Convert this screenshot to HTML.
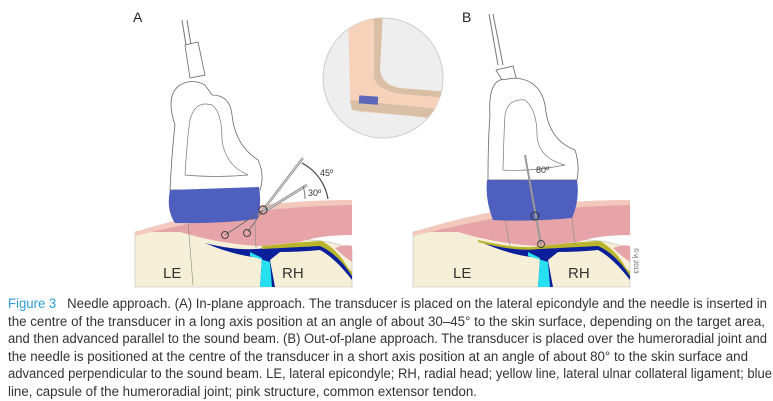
<!DOCTYPE html>
<html><head><meta charset="utf-8"><style>
body{margin:0;background:#fff;width:773px;height:400px;overflow:hidden;font-family:"Liberation Sans",sans-serif}
.cap{position:absolute;left:8px;top:295px;font-size:13.5px;line-height:17.6px;color:#333}
.cap div{white-space:nowrap;transform-origin:0 0;height:17.6px}
.cap b{color:#2aa0d8;font-weight:normal}
</style></head><body>
<svg width="773" height="295" style="position:absolute;left:0;top:0" xmlns="http://www.w3.org/2000/svg">
<g id="A">
<text x="133" y="22" font-size="14" fill="#222">A</text>
<path d="M135 232 Q150 228 170 230 L230 240 Q260 245 290 240 Q330 238 352 250 L352 287 L135 287Z" fill="#f6efd8" stroke="#bbb" stroke-width="0.6"/>
<path d="M135 232 Q200 212 260 205 Q310 200 352 200 L352 235 Q320 235 300 242 L260 246 Q220 244 180 232Z" fill="#e6a4a8"/>
<path d="M135 232 Q200 212 260 205 Q310 200 352 200 L352 205 Q300 206 260 211 Q200 220 135 236Z" fill="#f3c9bd"/>
<path d="M205 243 Q240 252 265 248 Q300 244 320 243 Q335 252 345 265 L352 275 L352 280 Q335 258 320 250 Q300 252 280 252 L270 260 L275 287 L260 287 L262 258 Q235 256 205 243Z" fill="#0b1f9a"/>
<path d="M250 252 L262 258 L260 287 L272 287 L270 262 L250 256Z" fill="#26e0f0"/>
<path d="M262 246 Q300 242 322 241 Q338 250 348 268 L352 272 L352 276 Q338 254 320 246 Q300 247 262 249Z" fill="#b9b42c"/>
<path d="M335 248 Q345 244 352 246 L352 262 Q342 255 335 248Z" fill="#e6a4a8"/>
<path d="M187 20 L195 70" stroke="#777" fill="none"/><path d="M182 20 L190 70" stroke="#777" fill="none"/>
<path d="M185 45 L198 42 L205 75 L190 78Z" fill="#fff" stroke="#666" stroke-width="0.8"/>
<path d="M170 190 Q172 150 175 125 Q165 95 180 85 Q192 78 205 85 L212 95 Q230 95 232 115 Q235 145 258 160 Q265 175 260 190Z" fill="#fff" stroke="#666" stroke-width="0.8"/>
<path d="M185 175 Q187 140 190 120 Q195 100 212 105 Q222 112 222 140 Q225 165 248 175 Q215 178 185 175Z" fill="none" stroke="#777" stroke-width="0.7"/>
<path d="M170 190 L259 187 Q262 205 257 219 Q220 224 175 223 Q166 210 170 190Z" fill="#4f5fbe"/>
<path d="M263 210 L303 158 M265 211 L307 185" stroke="#888" stroke-width="2.5"/>
<path d="M263 210 L303 158 M265 211 L307 185" stroke="#ddd" stroke-width="1"/>
<path d="M263 210 L225 235 M263 210 L248 232" stroke="#666" stroke-width="0.8"/>
<circle cx="263" cy="210" r="4" fill="none" stroke="#333"/>
<circle cx="225" cy="235" r="3.5" fill="none" stroke="#444"/><circle cx="247" cy="233" r="3.5" fill="none" stroke="#444"/>
<path d="M302 163 A50 50 0 0 1 328 199" stroke="#444" fill="none" stroke-width="1.2"/>
<path d="M303 186 A40 40 0 0 1 305 199" stroke="#777" fill="none"/>
<text x="320" y="176" font-size="9" fill="#333">45º</text>
<text x="308" y="196" font-size="9" fill="#333">30º</text>
<path d="M188 222 L193 285 M255 222 L256 248" stroke="#888" stroke-width="0.6"/>
<text x="163" y="278" font-size="15" fill="#333">LE</text>
<text x="282" y="278" font-size="15" fill="#333">RH</text>
</g>
<circle cx="383" cy="78" r="60" fill="#eeeeee" stroke="#ccc"/>
<clipPath id="c"><circle cx="383" cy="78" r="60"/></clipPath>
<g clip-path="url(#c)">
<path d="M348 10 L383 10 L380 70 Q382 85 400 88 L450 92 L450 118 L360 112 Q350 108 350 95Z" fill="#f6d2bb"/>
<path d="M374 10 L383 10 L380 70 Q382 85 400 88 L450 92 L450 98 L400 94 Q370 88 374 70Z" fill="#d9bfa6"/>
<path d="M350 100 L450 110 L450 120 L352 110Z" fill="#d9bfa6"/>
<rect x="359" y="96" width="19" height="8" fill="#5b68b8" transform="rotate(4 368 100)"/>
</g>
<g id="B">
<text x="462" y="22" font-size="14" fill="#222">B</text>
<path d="M413 232 Q428 228 448 230 L508 240 Q538 245 568 240 Q608 238 630 250 L630 287 L413 287Z" fill="#f6efd8" stroke="#bbb" stroke-width="0.6"/>
<path d="M413 232 Q478 212 538 205 Q588 200 630 200 L630 235 Q598 235 578 242 L538 246 Q498 244 458 232Z" fill="#e6a4a8"/>
<path d="M413 232 Q478 212 538 205 Q588 200 630 200 L630 205 Q578 206 538 211 Q478 220 413 236Z" fill="#f3c9bd"/>
<path d="M483 243 Q518 252 543 248 Q578 244 598 243 Q613 252 623 265 L630 275 L630 280 Q613 258 598 250 Q578 252 558 252 L548 260 L553 287 L538 287 L540 258 Q513 256 483 243Z" fill="#0b1f9a"/>
<path d="M528 252 L540 258 L538 287 L550 287 L548 262 L528 256Z" fill="#26e0f0"/>
<path d="M478 240 Q520 250 540 246 Q578 242 600 241 Q616 250 626 268 L630 272 L630 276 Q616 254 598 246 Q578 247 540 249 Q515 252 478 242Z" fill="#b9b42c"/>
<path d="M613 248 Q623 244 630 246 L630 262 Q620 255 613 248Z" fill="#e6a4a8"/>
<path d="M493 14 L503 65 M489 14 L498 65" stroke="#777"/>
<path d="M496 70 L513 66 L518 85 L508 90 Z" fill="#fff" stroke="#666" stroke-width="0.8"/>
<path d="M488 180 Q488 140 490 115 Q488 85 500 80 L515 78 Q540 80 545 105 Q548 140 575 150 Q580 165 577 180Z" fill="#fff" stroke="#666" stroke-width="0.8"/>
<path d="M503 170 Q504 130 505 115 Q508 98 525 100 Q537 110 537 135 Q538 158 565 165 Q530 172 503 170Z" fill="none" stroke="#777" stroke-width="0.7"/>
<path d="M487 180 L577 180 Q580 200 572 218 Q530 222 493 220 Q485 200 487 180Z" fill="#4f5fbe"/>
<path d="M525 155 L541 245" stroke="#999" stroke-width="2"/>
<circle cx="535" cy="216" r="4" fill="none" stroke="#333"/><circle cx="541" cy="244" r="3.5" fill="none" stroke="#444"/>
<path d="M505 220 L510 246 M572 218 L575 244" stroke="#888" stroke-width="0.6"/>
<text x="536" y="173" font-size="9" fill="#333">80º</text>
<text x="453" y="278" font-size="15" fill="#333">LE</text>
<text x="568" y="278" font-size="15" fill="#333">RH</text>
<text x="0" y="0" font-size="6" fill="#555" transform="translate(634 248) rotate(90)">© vj 2013</text>
</g>
</svg>
<div class="cap">
<div data-w="759"><b>Figure 3</b>&nbsp;&nbsp; Needle approach. (A) In-plane approach. The transducer is placed on the lateral epicondyle and the needle is inserted in</div>
<div data-w="757">the centre of the transducer in a long axis position at an angle of about 30–45° to the skin surface, depending on the target area,</div>
<div data-w="759">and then advanced parallel to the sound beam. (B) Out-of-plane approach. The transducer is placed over the humeroradial joint and</div>
<div data-w="740">the needle is positioned at the centre of the transducer in a short axis position at an angle of about 80° to the skin surface and</div>
<div data-w="764">advanced perpendicular to the sound beam. LE, lateral epicondyle; RH, radial head; yellow line, lateral ulnar collateral ligament; blue</div>
<div data-w="469">line, capsule of the humeroradial joint; pink structure, common extensor tendon.</div>
</div>
<script>
document.querySelectorAll('.cap div').forEach(function(d){
  d.style.display='inline-block';
  var w=d.getBoundingClientRect().width;
  d.style.display='block';
  var t=parseFloat(d.getAttribute('data-w'));
  d.style.transform='scaleX('+(t/w)+')';
});
</script>
</body></html>
